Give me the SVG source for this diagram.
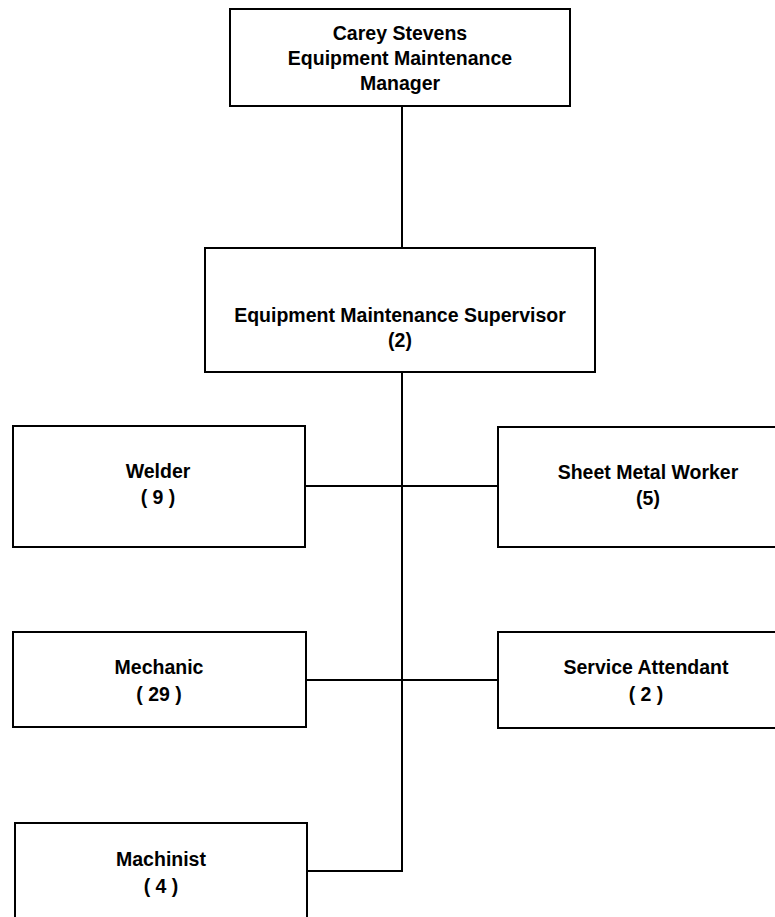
<svg xmlns="http://www.w3.org/2000/svg" width="775" height="917" viewBox="0 0 775 917">
<style>
.box{fill:#fff;stroke:#000;stroke-width:2}
.t{font-family:"Liberation Sans",Arial,sans-serif;font-weight:bold;font-size:19.5px;fill:#000;text-anchor:middle}
.c{fill:none;stroke:#000;stroke-width:2}
</style>
<rect width="775" height="917" fill="#fff"/>
<g id="connectors">
<path class="c" d="M402 106V248"/>
<path class="c" d="M402 372V871H307"/>
<path class="c" d="M305 486H498"/>
<path class="c" d="M306 680H498"/>
</g>
<g id="manager">
<rect class="box" x="230" y="9" width="340" height="97"/>
<text class="t" x="400" y="40">Carey Stevens</text>
<text class="t" x="400" y="65">Equipment Maintenance</text>
<text class="t" x="400" y="90">Manager</text>
</g>
<g id="supervisor">
<rect class="box" x="205" y="248" width="390" height="124"/>
<text class="t" x="400" y="322">Equipment Maintenance Supervisor</text>
<text class="t" x="400" y="347">(2)</text>
</g>
<g id="welder">
<rect class="box" x="13" y="426" width="292" height="121"/>
<text class="t" x="158" y="478">Welder</text>
<text class="t" x="158" y="504">( 9 )</text>
</g>
<g id="sheet-metal-worker">
<rect class="box" x="498" y="427" width="300" height="120"/>
<text class="t" x="648" y="479">Sheet Metal Worker</text>
<text class="t" x="648" y="505">(5)</text>
</g>
<g id="mechanic">
<rect class="box" x="13" y="632" width="293" height="95"/>
<text class="t" x="159" y="674">Mechanic</text>
<text class="t" x="159" y="701">( 29 )</text>
</g>
<g id="service-attendant">
<rect class="box" x="498" y="632" width="300" height="96"/>
<text class="t" x="646" y="674">Service Attendant</text>
<text class="t" x="646" y="701">( 2 )</text>
</g>
<g id="machinist">
<rect class="box" x="15" y="823" width="292" height="100"/>
<text class="t" x="161" y="866">Machinist</text>
<text class="t" x="161" y="893">( 4 )</text>
</g>
</svg>
